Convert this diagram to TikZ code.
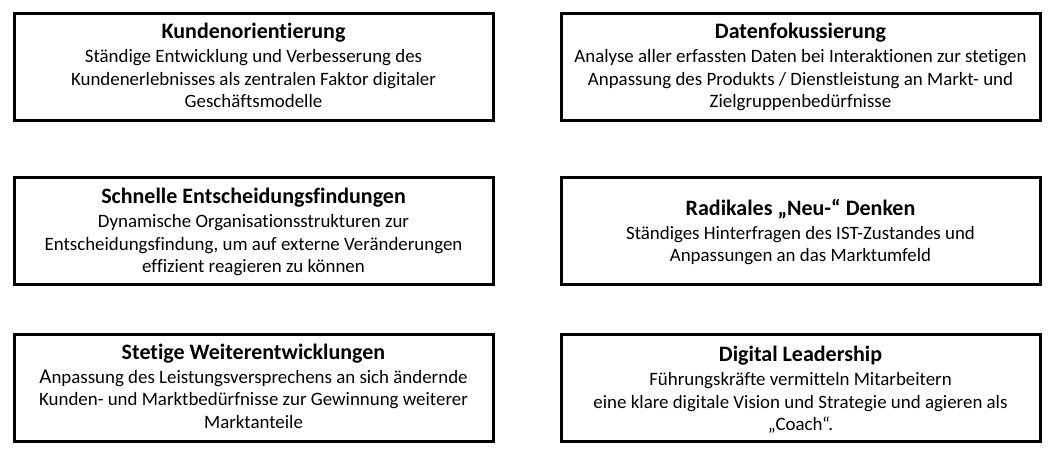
\documentclass[tikz,border=0pt]{standalone}
\usepackage{fontspec}
\setmainfont[Ligatures=NoCommon]{Carlito}
\begin{document}
\begin{tikzpicture}[x=1pt,y=-1pt,
  card/.style={draw=black, line width=3pt, minimum width=479pt, minimum height=107pt,
    inner sep=0pt},
  cardtext/.style={anchor=base, inner sep=0pt, text width=470pt, align=flush center,
    font=\fontsize{18.9}{22.5}\selectfont}]
\useasboundingbox (0,0) rectangle (1056,451);
\newcommand\cardhead[1]{{\fontsize{22}{25}\selectfont\bfseries #1}\\[1.7pt]}

% frames
\node[card] (kunden)    at (253.5,66.5) {};
\node[card] (entscheid) at (253.5,230.5) {};
\node[card] (weiter)    at (253.5,388) {};
\node[card] (daten)     at (800.5,66.5) {};
\node[card] (neu)       at (800.5,231) {};
\node[card] (leader)    at (800.5,388) {};

% left column texts
\node[cardtext] (kundentext) at (253.5,38.3)
  {\cardhead{Kundenorientierung}
   Ständige Entwicklung und Verbesserung des\\
   Kundenerlebnisses als zentralen Faktor digitaler\\
   Geschäftsmodelle};
\node[cardtext] (entscheidtext) at (253.5,203.3)
  {\cardhead{Schnelle Entscheidungsfindungen}
   Dynamische Organisationsstrukturen zur\\
   Entscheidungsfindung, um auf externe Veränderungen\\
   effizient reagieren zu können};
\node[cardtext] (weitertext) at (253.5,359)
  {\cardhead{Stetige Weiterentwicklungen}
   {\fontsize{21}{22.5}\selectfont A}npassung des Leistungsversprechens an sich ändernde\\
   Kunden- und Marktbedürfnisse zur Gewinnung weiterer\\
   Marktanteile};

% right column texts
\node[cardtext] (datentext) at (800.5,38.3)
  {\cardhead{Datenfokussierung}
   Analyse aller erfassten Daten bei Interaktionen zur stetigen\\
   Anpassung des Produkts / Dienstleistung an Markt- und\\
   Zielgruppenbedürfnisse};
\node[cardtext] (neutext) at (800.5,215)
  {\cardhead{Radikales „Neu-“ Denken}
   Ständiges Hinterfragen des IST-Zustandes und\\
   Anpassungen an das Marktumfeld};
\node[cardtext] (leadertext) at (800.5,361.7)
  {\cardhead{Digital Leadership}
   Führungskräfte vermitteln Mitarbeitern\\
   eine klare digitale Vision und Strategie und agieren als\\
   „Coach“.};
\end{tikzpicture}
\end{document}
